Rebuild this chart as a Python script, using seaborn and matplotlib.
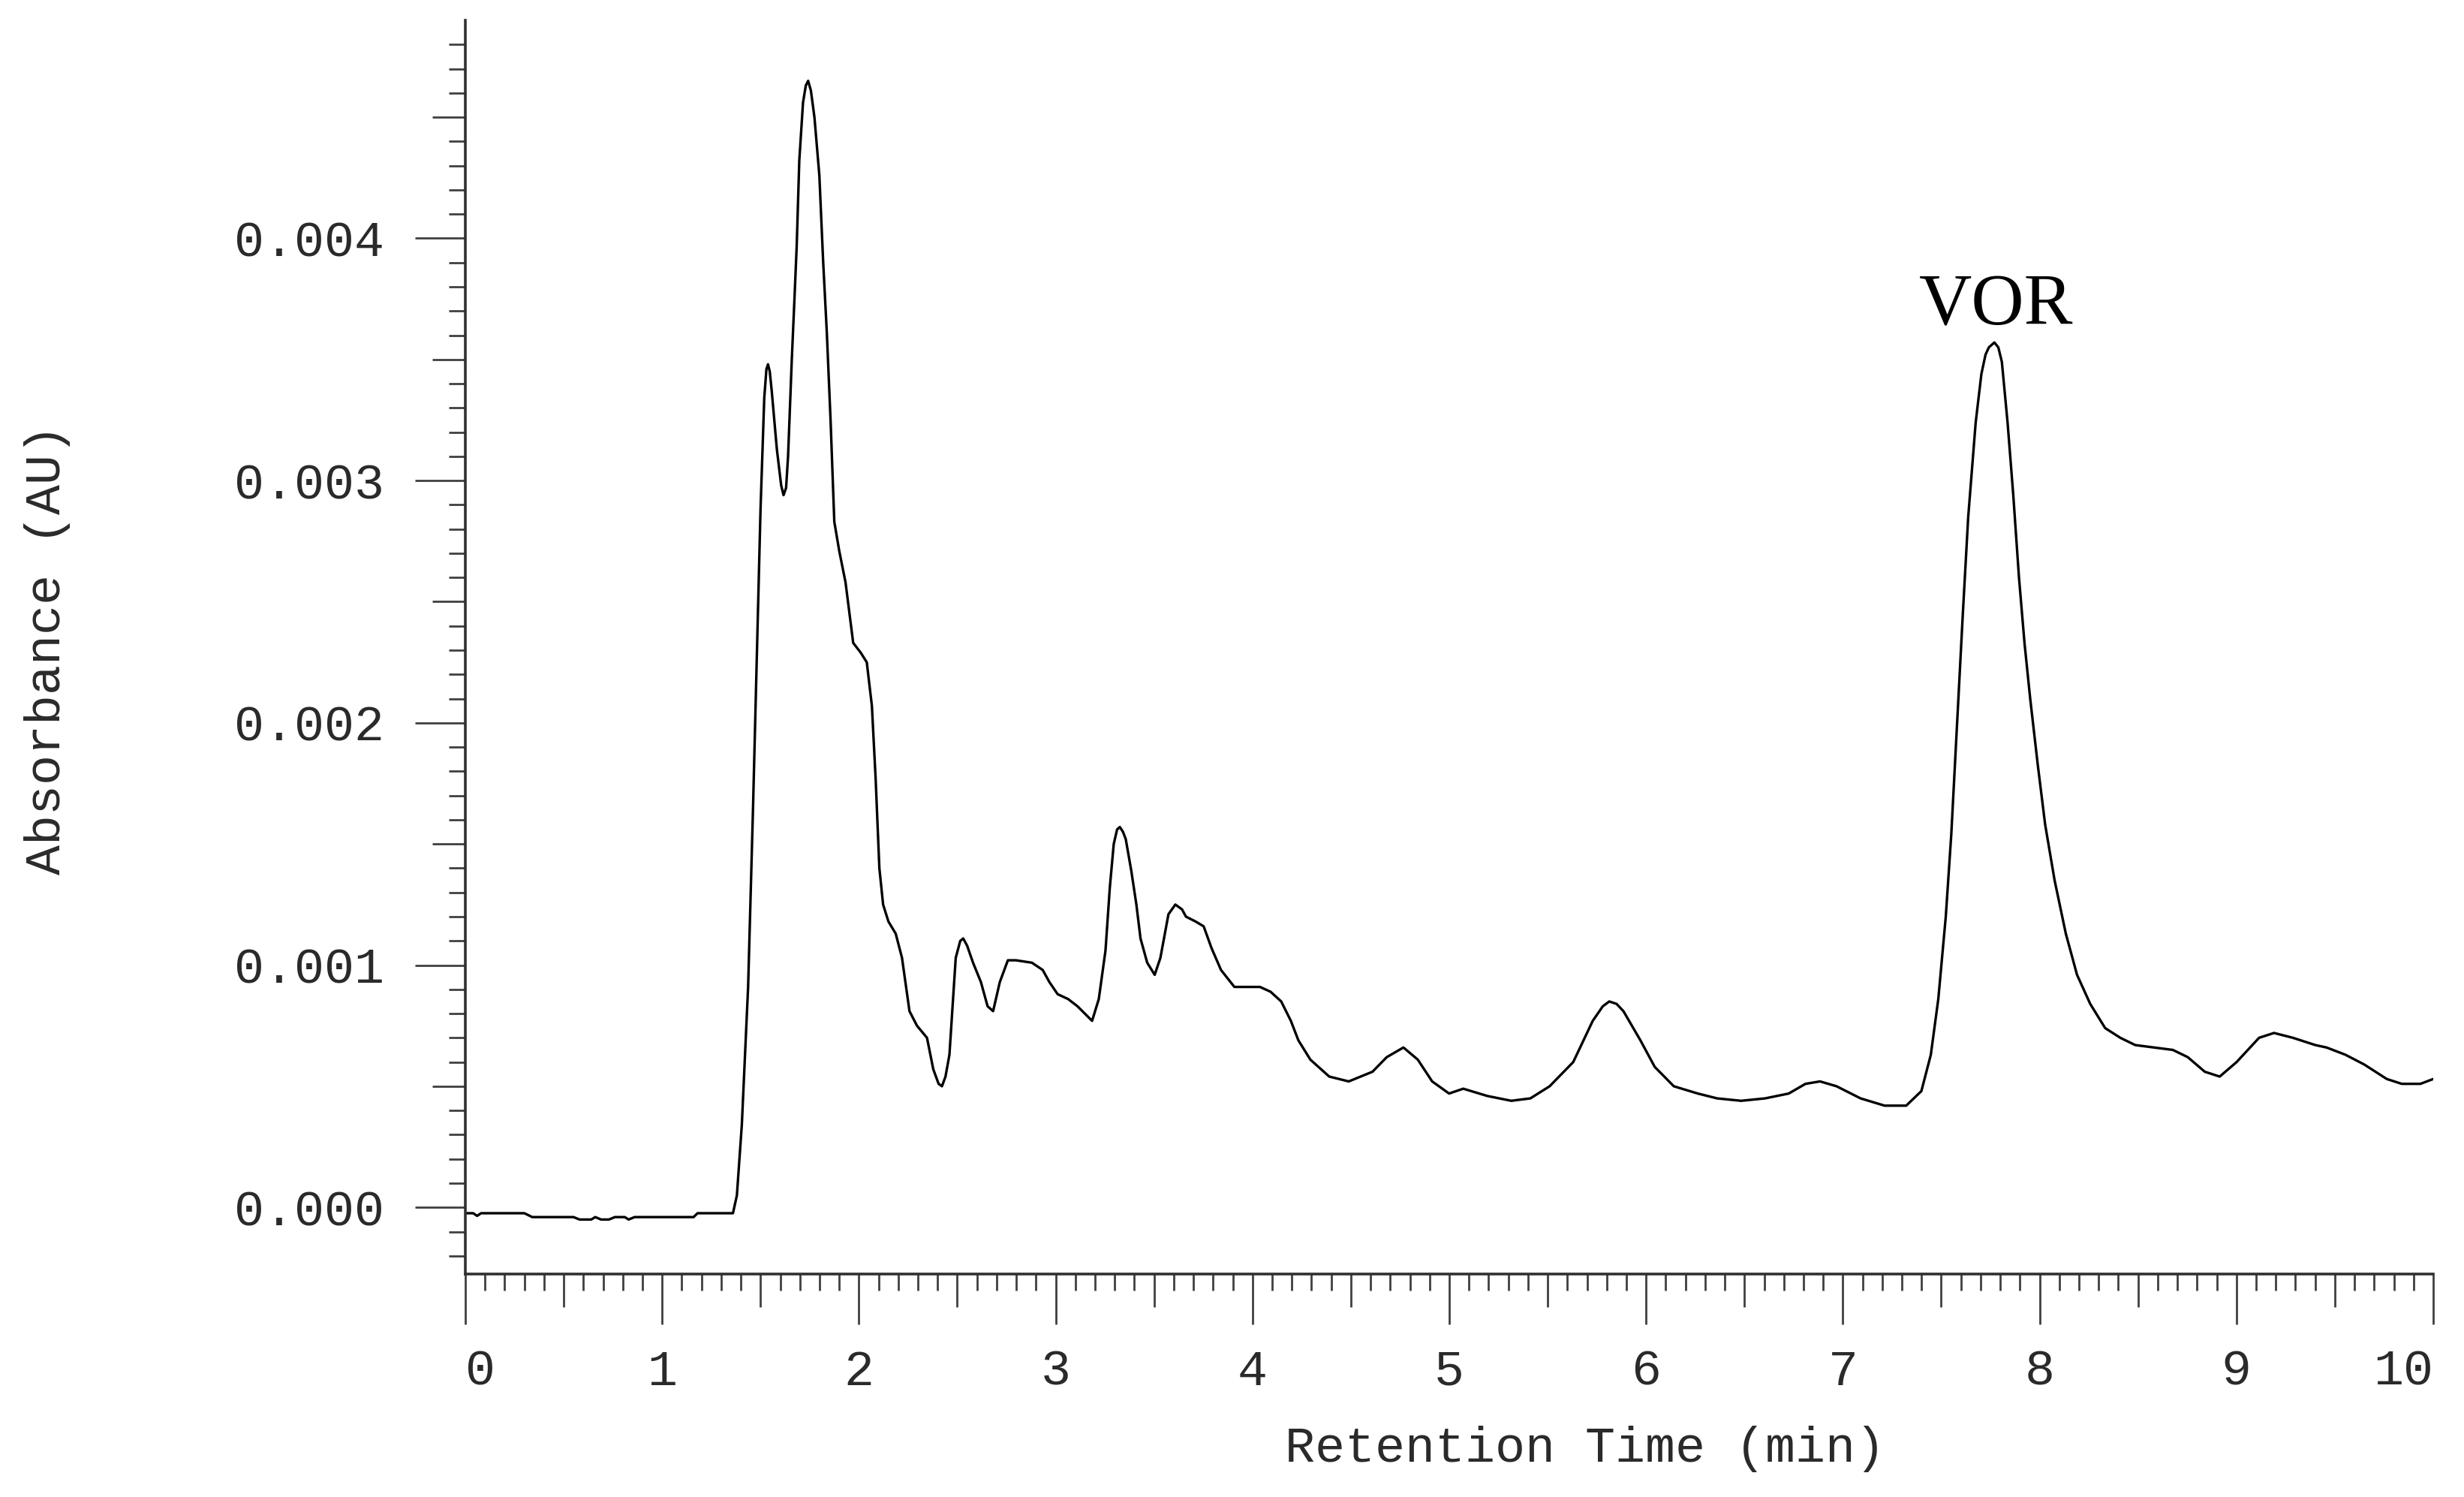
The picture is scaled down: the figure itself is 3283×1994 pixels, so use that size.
import numpy as np
import matplotlib
matplotlib.use("Agg")
import matplotlib.pyplot as plt
import seaborn as sns
from matplotlib.ticker import FixedLocator, FuncFormatter

# =========================================
# CHROMATOGRAM DATA
# =========================================

time_min = [
    0.00, 0.04, 0.06, 0.08, 0.30, 0.34, 0.55, 0.58, 0.64, 0.66, 0.69, 0.73,
    0.76, 0.81, 0.83, 0.86, 1.16, 1.18, 1.36, 1.38, 1.405, 1.437, 1.462,
    1.481, 1.500, 1.519, 1.530, 1.538, 1.547, 1.557, 1.583, 1.605, 1.617,
    1.630, 1.640, 1.659, 1.672, 1.684, 1.697, 1.716, 1.730, 1.742, 1.756,
    1.774, 1.799, 1.818, 1.837, 1.856, 1.875, 1.900, 1.932, 1.971, 2.009,
    2.040, 2.066, 2.085, 2.104, 2.123, 2.150, 2.187, 2.219, 2.257, 2.295,
    2.346, 2.378, 2.405, 2.422, 2.440, 2.460, 2.492, 2.515, 2.530, 2.550,
    2.580, 2.620, 2.654, 2.682, 2.716, 2.757, 2.798, 2.879, 2.934, 2.968,
    3.010, 3.063, 3.111, 3.185, 3.219, 3.253, 3.275, 3.295, 3.312, 3.326,
    3.342, 3.356, 3.384, 3.410, 3.431, 3.465, 3.503, 3.532, 3.573, 3.608,
    3.642, 3.662, 3.711, 3.752, 3.792, 3.840, 3.908, 4.038, 4.092, 4.146,
    4.195, 4.233, 4.294, 4.390, 4.489, 4.610, 4.682, 4.767, 4.840, 4.913,
    4.999, 5.071, 5.193, 5.315, 5.412, 5.510, 5.630, 5.729, 5.780, 5.813,
    5.850, 5.885, 5.971, 6.044, 6.141, 6.263, 6.361, 6.483, 6.605, 6.725,
    6.810, 6.884, 6.968, 7.090, 7.212, 7.322, 7.399, 7.447, 7.485, 7.523,
    7.551, 7.580, 7.609, 7.637, 7.675, 7.704, 7.725, 7.742, 7.770, 7.790,
    7.808, 7.837, 7.866, 7.895, 7.923, 7.952, 7.990, 8.028, 8.076, 8.133,
    8.190, 8.257, 8.333, 8.410, 8.486, 8.581, 8.677, 8.753, 8.839, 8.915,
    9.001, 9.115, 9.191, 9.287, 9.401, 9.458, 9.554, 9.649, 9.764, 9.840,
    9.935, 10.00,
]

absorbance = [
    -0.000024, -0.000024, -0.000035, -0.000024, -0.000024, -0.000040,
    -0.000040, -0.000050, -0.000050, -0.000040, -0.000050, -0.000050,
    -0.000040, -0.000040, -0.000050, -0.000040, -0.000040, -0.000024,
    -0.000024, 0.00005, 0.00034, 0.00091, 0.00165,
    0.00226, 0.00288, 0.00334, 0.00346, 0.00348, 0.00345, 0.00337, 0.00313,
    0.00298, 0.00294, 0.00297, 0.00310, 0.00350, 0.00374, 0.00397, 0.00432,
    0.00456, 0.00463, 0.00465, 0.00461, 0.00450, 0.00426, 0.00391, 0.00361,
    0.00325, 0.00283, 0.00271, 0.00258, 0.00233, 0.00229, 0.00225, 0.00207,
    0.00177, 0.00140, 0.00125, 0.00118, 0.00113, 0.00103, 0.00081, 0.00075,
    0.00070, 0.00057, 0.00051, 0.00050, 0.00054, 0.00063, 0.00103, 0.00110,
    0.00111, 0.00108, 0.00101, 0.00093, 0.00083, 0.00081, 0.00093, 0.00102,
    0.00102, 0.00101, 0.00098, 0.00093, 0.00088, 0.00086, 0.00083, 0.00077,
    0.00086, 0.00106, 0.00132, 0.00150, 0.00156, 0.00157, 0.00155, 0.00152,
    0.00139, 0.00125, 0.00111, 0.00101, 0.00096, 0.00103, 0.00121, 0.00125,
    0.00123, 0.00120, 0.00118, 0.00116, 0.00107, 0.00098, 0.00091, 0.00091,
    0.00089, 0.00085, 0.00077, 0.00069, 0.00061, 0.00054, 0.00052, 0.00056,
    0.00062, 0.00066, 0.00061, 0.00052, 0.00047, 0.00049, 0.00046, 0.00044,
    0.00045, 0.00050, 0.00060, 0.00077, 0.00083, 0.00085, 0.00084, 0.00081,
    0.00069, 0.00058, 0.00050, 0.00047, 0.00045, 0.00044, 0.00045, 0.00047,
    0.00051, 0.00052, 0.00050, 0.00045, 0.00042, 0.00042, 0.00048, 0.00063,
    0.00086, 0.00120, 0.00154, 0.00199, 0.00244, 0.00285, 0.00324, 0.00344,
    0.00352, 0.00355, 0.00357, 0.00355, 0.00349, 0.00324, 0.00294, 0.00260,
    0.00233, 0.00210, 0.00183, 0.00158, 0.00135, 0.00113, 0.00096, 0.00084,
    0.00074, 0.00070, 0.00067, 0.00066, 0.00065, 0.00062, 0.00056, 0.00054,
    0.00060, 0.00070, 0.00072, 0.00070, 0.00067, 0.00066, 0.00063, 0.00059,
    0.00053, 0.00051, 0.00051, 0.00053,
]

peak_label = "VOR"
peak_time = 7.78
peak_label_y = 0.003644

x_label = "Retention Time (min)"
y_label = "Absorbance (AU)"

# =========================================
# STYLE
# =========================================

sns.set_style("ticks")
plt.rcParams['font.family'] = ['Liberation Mono', 'DejaVu Sans Mono']

INK = '#2a2a2a'

fig = plt.figure(figsize=(16.415, 9.97), dpi=200)
ax = fig.add_axes([0.18885, 0.14895, 0.79866, 0.83751])

sns.lineplot(
    x=time_min,
    y=absorbance,
    ax=ax,
    color='black',
    linewidth=1.2,
    estimator=None,
    sort=False
)

ax.set_xlim(0, 10)
ax.set_ylim(-0.000275, 0.0049)

for side in ['top', 'right']:
    ax.spines[side].set_visible(False)
for side in ['left', 'bottom']:
    ax.spines[side].set_linewidth(1.3)
    ax.spines[side].set_color('#303030')

# -----------------------------------------
# TICKS
# -----------------------------------------

x_major = np.arange(0, 10.001, 0.5)
x_minor = np.arange(0, 10.001, 0.1)
y_major = np.arange(0, 0.00451, 0.0005)
y_minor = np.arange(-0.0002, 0.00481, 0.0001)

ax.xaxis.set_major_locator(FixedLocator(x_major))
ax.xaxis.set_minor_locator(FixedLocator(x_minor))
ax.yaxis.set_major_locator(FixedLocator(y_major))
ax.yaxis.set_minor_locator(FixedLocator(y_minor))


def x_fmt(v, pos):
    if abs(v - round(v)) < 1e-6:
        return "%d" % round(v)
    return ""


def y_fmt(v, pos):
    if abs(v / 0.001 - round(v / 0.001)) < 1e-6:
        return "%.3f" % abs(v) if abs(v) < 1e-9 else "%.3f" % v
    return ""


ax.xaxis.set_major_formatter(FuncFormatter(x_fmt))
ax.yaxis.set_major_formatter(FuncFormatter(y_fmt))

ax.tick_params(axis='x', which='major', direction='out', length=24,
               width=1.0, color='#404040', pad=12, labelsize=24,
               labelcolor=INK)
ax.tick_params(axis='y', which='major', direction='out', length=24,
               width=1.0, color='#404040', pad=15, labelsize=24,
               labelcolor=INK)
ax.tick_params(which='minor', direction='out', length=8,
               width=1.0, color='#404040')

# medium ticks at the half steps
for tick, loc in zip(ax.xaxis.get_major_ticks(), x_major):
    if abs(loc - round(loc)) > 1e-6:
        tick.tick1line.set_markersize(16)
for tick, loc in zip(ax.yaxis.get_major_ticks(), y_major):
    if abs(loc / 0.001 - round(loc / 0.001)) > 1e-6:
        tick.tick1line.set_markersize(16)

xticks = ax.xaxis.get_major_ticks()
xticks[0].label1.set_horizontalalignment('left')
xticks[-1].label1.set_horizontalalignment('right')

# -----------------------------------------
# LABELS
# -----------------------------------------

ax.set_xlabel(x_label, fontsize=24, color=INK)
ax.set_ylabel(y_label, fontsize=24, color=INK)
ax.xaxis.set_label_coords(0.569, -0.1395)
ax.yaxis.set_label_coords(-0.2124, 0.498)
ax.xaxis.label.set_va('center')
ax.yaxis.label.set_va('center')

ax.text(
    peak_time,
    peak_label_y,
    peak_label,
    family=['Liberation Serif', 'DejaVu Serif'],
    fontsize=35,
    ha='center',
    va='baseline',
    color='black'
)

fig.savefig("out.png", dpi=200, facecolor='white')
